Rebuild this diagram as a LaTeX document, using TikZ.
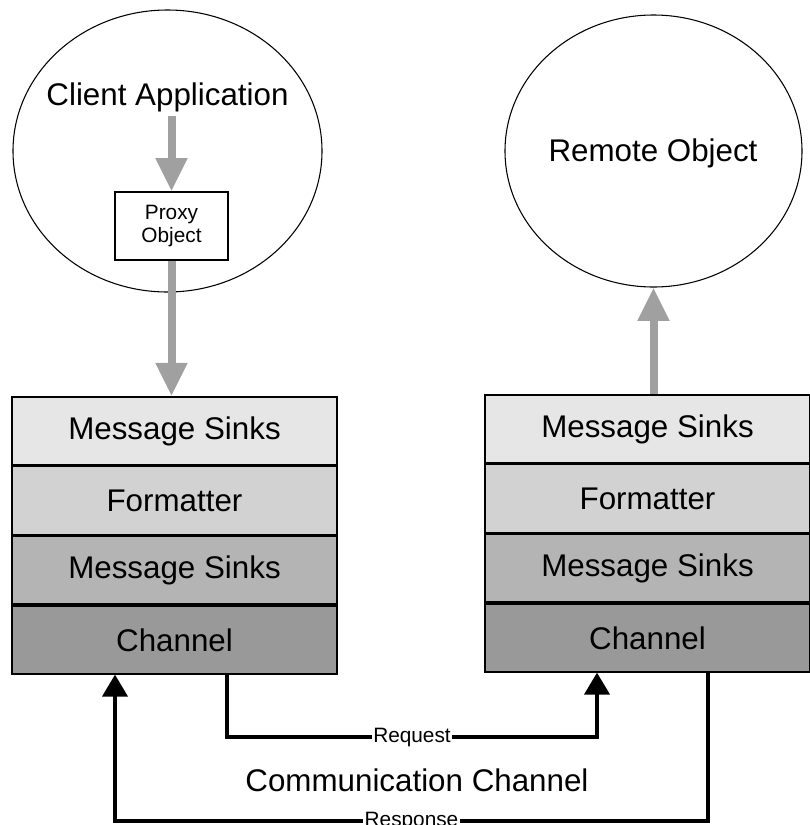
\documentclass[tikz,border=0pt]{standalone}
\usepackage{fontspec}
\setmainfont{Liberation Sans}
\usetikzlibrary{positioning, shapes.geometric, arrows.meta}

\definecolor{sinklight}{HTML}{E6E6E6}
\definecolor{fmtgray}{HTML}{D2D2D2}
\definecolor{sinkdark}{HTML}{B4B4B4}
\definecolor{changray}{HTML}{999999}
\definecolor{flowgray}{HTML}{A0A0A0}

\begin{document}
\begin{tikzpicture}[
    x=0.75pt, y=-0.75pt,
    big/.style={font=\fontsize{23.5}{28}\selectfont},
    small/.style={font=\fontsize{15.6}{17.3}\selectfont},
    bubble/.style={ellipse,draw,line width=0.8pt,inner sep=0pt},
    layer/.style={rectangle,draw,line width=1.2pt,minimum width=243.75pt,minimum height=51pt,inner sep=0pt,big},
    flow/.style={draw=flowgray,line width=6pt,-{Triangle[width=22.5pt,length=25pt]}},
    link/.style={draw,line width=3pt,-{Triangle[width=18.75pt,length=16.5pt]}},
    tag/.style={fill=white,inner sep=1pt,small}
]
\useasboundingbox (0,0) rectangle (810,825);

% client side
\node[bubble,minimum width=231.75pt,minimum height=211.5pt] (client) at (167.5,151) {};
\node[big] (clientlbl) at (167.5,97) {Client Application};
\node[draw,line width=0.9pt,minimum width=84.75pt,minimum height=51pt,align=center,small] (proxy) at (171.5,226) {Proxy\\Object};

\node[layer,fill=sinklight] (lms1) at (174.5,431) {Message Sinks};
\node[layer,fill=fmtgray,below=0pt of lms1] (lfmt) {Formatter};
\node[layer,fill=sinkdark,below=0pt of lfmt] (lms2) {Message Sinks};
\node[layer,fill=changray,below=0pt of lms2] (lch) {Channel};

% server side
\node[bubble,minimum width=222.75pt,minimum height=204pt] (remote) at (653.5,151) {};
\node[big] (remotelbl) at (653,153) {Remote Object};

\node[layer,fill=sinklight] (rms1) at (647.5,429) {Message Sinks};
\node[layer,fill=fmtgray,below=0pt of rms1] (rfmt) {Formatter};
\node[layer,fill=sinkdark,below=0pt of rfmt] (rms2) {Message Sinks};
\node[layer,fill=changray,below=0pt of rms2] (rch) {Channel};

\draw[flow] (proxy.north |- clientlbl.south) -- (proxy.north);
\draw[flow] (proxy.south) -- (proxy.south |- lms1.north);
\draw[flow] (remote.south |- rms1.north) -- (remote.south);

% communication channel
\coordinate (reqL) at (227,737);
\coordinate (reqR) at (597,737);
\coordinate (respR) at (708,821);
\coordinate (respL) at (115,821);
\draw[link] (lch.south -| reqL) -- (reqL) -- node[tag] {Request} (reqR) -- (rch.south -| reqR);
\draw[link] (rch.south -| respR) -- (respR) -- node[tag] {Response} (respL) -- (lch.south -| respL);
\node[big] (commlbl) at (417,780) {Communication Channel};

\end{tikzpicture}
\end{document}
